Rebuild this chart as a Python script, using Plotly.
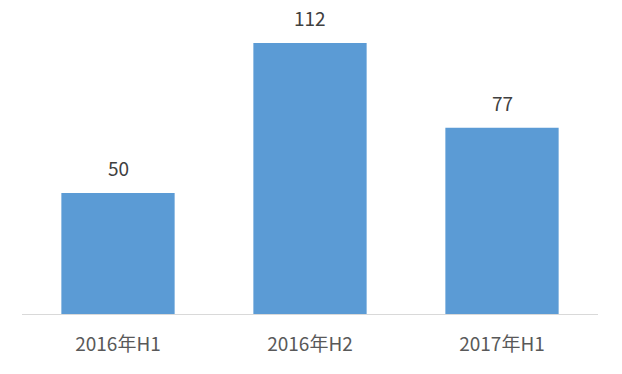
import plotly.graph_objects as go

categories = ["2016年H1", "2016年H2", "2017年H1"]
values = [50, 112, 77]

FONT = "Noto Sans CJK SC, Microsoft YaHei, sans-serif"

fig = go.Figure()
fig.add_trace(go.Bar(
    x=categories, y=values,
    marker=dict(color="#5B9BD5", line=dict(width=0)),
    hoverinfo="skip",
))

for c, v in zip(categories, values):
    fig.add_annotation(x=c, y=v, text=str(v), showarrow=False,
                       yanchor="middle", yshift=25,
                       font=dict(family=FONT, size=19, color="#404040"))

fig.update_layout(
    width=622, height=374,
    margin=dict(l=22, r=24, t=10, b=60),
    plot_bgcolor="white", paper_bgcolor="white",
    bargap=0.41,
    showlegend=False,
    xaxis=dict(showline=True, linecolor="#D9D9D9", linewidth=1,
               showgrid=False, ticks="", ticklabelstandoff=13,
               tickfont=dict(family=FONT, size=19, color="#595959")),
    yaxis=dict(range=[0, 125.6], visible=False, showgrid=False, zeroline=False),
)

fig.write_html("out.html")
